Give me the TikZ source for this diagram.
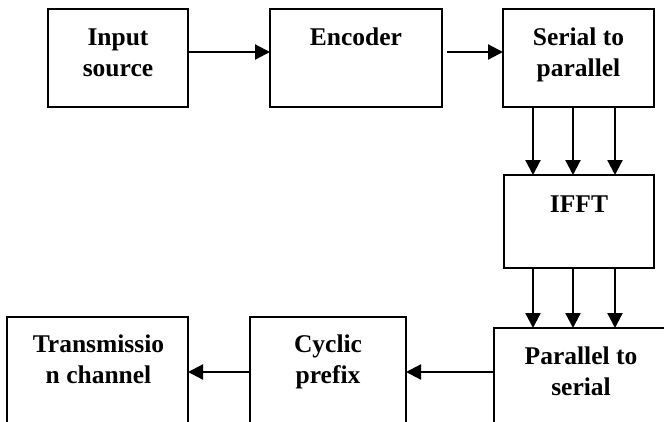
\documentclass[tikz,border=0pt]{standalone}
\usepackage{fontspec}
\setmainfont{Liberation Serif}
\usetikzlibrary{arrows.meta,calc}
\begin{document}
\begin{tikzpicture}[x=1pt,y=-1pt,
  box/.style={draw,line width=2.3pt,inner sep=0pt,outer sep=0pt},
  lbl/.style={anchor=base,align=center,inner sep=0pt,font=\fontsize{25.5}{31}\selectfont\bfseries},
  arr/.style={line width=2.2pt,-{Triangle[length=15pt,width=15pt]}}]
\useasboundingbox (0,0) rectangle (664,421);
% boxes
\node[box,minimum width=140pt,minimum height=98pt] (in) at (118,58) {};
\node[box,minimum width=172pt,minimum height=98pt] (enc) at (356,58) {};
\node[box,minimum width=151pt,minimum height=98pt] (s2p) at (578.5,58) {};
\node[box,minimum width=150pt,minimum height=93pt] (ifft) at (579,221.5) {};
\node[box,minimum width=186pt,minimum height=112pt] (p2s) at (587,384) {};
\node[box,minimum width=156pt,minimum height=123pt] (cyc) at (328,378.5) {};
\node[box,minimum width=181pt,minimum height=123pt] (tx) at (97.5,378.5) {};
% labels (anchor=base is the baseline of the last line)
\node[lbl] (inT) at ([yshift=-67pt]in.north) {Input\\source};
\node[lbl] (encT) at ([yshift=-36pt]enc.north) {Encoder};
\node[lbl] (s2pT) at ([yshift=-67pt]s2p.north) {Serial to\\parallel};
\node[lbl] (ifftT) at ([yshift=-37pt]ifft.north) {IFFT};
\node[lbl] (p2sT) at ([xshift=-6pt,yshift=-67pt]p2s.north) {Parallel to\\serial};
\node[lbl] (cycT) at ([yshift=-66pt]cyc.north) {Cyclic\\prefix};
\node[lbl] (txT) at ([xshift=1pt,yshift=-66pt]tx.north) {Transmissio\\n channel};
% columns
\coordinate (c1) at (533,0);
\coordinate (c2) at (573,0);
\coordinate (c3) at (615,0);
% arrows
\draw[arr] ([yshift=6pt]in.east) -- ([yshift=6pt]enc.west);
\draw[arr] ([xshift=5pt,yshift=6pt]enc.east) -- ([yshift=6pt]s2p.west);
\foreach \c in {c1,c2,c3}{
  \draw[arr] (s2p.south -| \c) -- (ifft.north -| \c);
  \draw[arr] (ifft.south -| \c) -- (p2s.north -| \c);
}
\draw[arr] ([yshift=12pt]p2s.west) -- ([yshift=6.5pt]cyc.east);
\draw[arr] ([yshift=6.5pt]cyc.west) -- ([yshift=6.5pt]tx.east);
\end{tikzpicture}
\end{document}
